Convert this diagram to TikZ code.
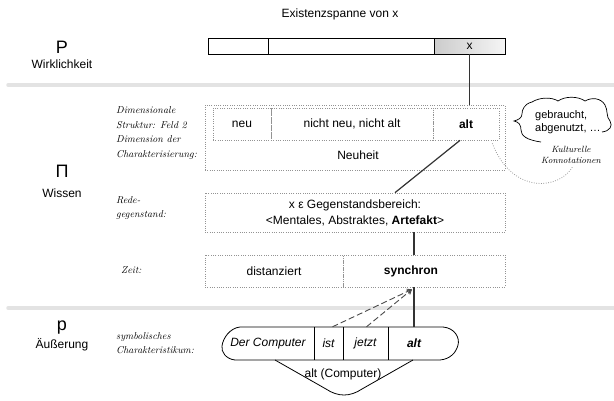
\documentclass[tikz,border=0pt]{standalone}
\usepackage{fontspec}
\newfontfamily\hv{Liberation Sans}
\usetikzlibrary{arrows.meta,calc}
\begin{document}
\begin{tikzpicture}[x=1pt,y=-1pt,
  every node/.style={font=\hv\fontsize{12}{16}\selectfont, inner sep=0pt},
  cell/.style={draw=black, line width=0.8pt, minimum height=16pt},
  dbox/.style={draw=gray!85, line width=0.7pt, dash pattern=on 1pt off 1.3pt},
  conn/.style={draw=black!80, line width=1.2pt},
  dsh/.style={draw=black!70, line width=0.9pt, dash pattern=on 6pt off 3pt},
  sep/.style={line width=3.5pt, draw=gray!22, line cap=round},
  lbl/.style={font=\rmfamily\itshape\fontsize{10}{14.5}\selectfont, anchor=west, align=left},
  big/.style={font=\hv\fontsize{18}{18}\selectfont},
  outl/.style={draw=black, line width=0.8pt},
]
\useasboundingbox (0,0) rectangle (614,400);

% separators
\draw[sep] (8,85) -- (616,85);
\draw[sep] (8,308) -- (616,308);

% left titles
\node[big] (P) at (62,47) {P};
\node (wirk) at (62,64) {Wirklichkeit};
\node[big] (Pi) at (62,171) {Π};
\node (wissen) at (62,193) {Wissen};
\node[big] (p) at (62,328) {p};
\node (aeuss) at (62,345) {Äußerung};

% top
\node (exist) at (340,14) {Existenzspanne von x};
\node[cell, minimum width=60pt] (b1) at (238,46) {};
\node[cell, minimum width=166pt] (b2) at (351,46) {};
\node[cell, minimum width=71pt, left color=gray!40, right color=gray!8] (b3) at (469.5,46) {x};

% Wissen labels
\node[lbl] (dimlbl) at (116,133) {Dimensionale\\Struktur: Feld 2\\Dimension der\\Charakterisierung:};
\node[lbl] (redelbl) at (116,208) {Rede-\\gegenstand:};
\node[lbl] (zeitlbl) at (121,270) {Zeit:};
\node[lbl] (symlbl) at (116,343) {symbolisches\\Charakteristikum:};

% Neuheit box
\node[dbox, minimum width=300pt, minimum height=65pt] (nb) at (355,137.5) {};
\node[dbox, minimum width=58pt, minimum height=32pt] (neu) at (242,124) {neu};
\node[dbox, minimum width=162pt, minimum height=32pt] (mid) at (352,124) {nicht neu, nicht alt};
\node[dbox, minimum width=66pt, minimum height=32pt] (alt) at (466,124) {\bfseries alt};
\node (neuheit) at (358,155) {Neuheit};

% Redegegenstand
\node[dbox, minimum width=300pt, minimum height=39pt, align=center] (rede) at (355,212.5) {x ε Gegenstandsbereich:\\<Mentales, Abstraktes, \textbf{Artefakt}>};

% Zeit
\node[dbox, minimum width=138pt, minimum height=32pt] (dist) at (274,271) {distanziert};
\node[dbox, minimum width=162pt, minimum height=32pt] (sync) at (424,271) {};
\node (synct) at (411,271) {\bfseries synchron};

% cloud
\draw[outl, line width=0.7pt] (602,132) .. controls (610,131) and (613,126) .. (610,121)
  .. controls (606,117) and (608,110) .. (605,105)
  .. controls (601,98) and (592,97) .. (585,101)
  .. controls (578,96) and (565,96) .. (558,101)
  .. controls (552,97) and (540,97) .. (532,102)
  .. controls (524,104) and (522,110) .. (522,114)
  .. controls (522,118) and (518,120) .. (514,121)
  .. controls (519,122) and (521,125) .. (521,130)
  .. controls (521,136) and (527,140) .. (541,142);
\node[anchor=west, align=left, font=\hv\fontsize{11}{12.5}\selectfont] (cloudt) at (535,122) {gebraucht,\\abgenutzt, \dots};
\node[align=center, font=\rmfamily\itshape\fontsize{9}{11.5}\selectfont] (kult) at (571,155) {Kulturelle\\Konnotationen};
\draw[gray!80, line width=0.8pt, dash pattern=on 0.8pt off 1.6pt] ($(alt.south east)+(-7,3)$) .. controls (512,195) and (560,190) .. ($(kult.south)+(2,2)$);

% utterance oval
\node (dc) at (268,343.5) {\itshape Der Computer};
\node[minimum height=33pt] (istc) at (328.5,343.5) {\itshape ist};
\node[minimum height=33pt] (jetztc) at (365.5,343.5) {\itshape jetzt};
\node[minimum height=33pt] (altc) at (414,343.5) {\bfseries\itshape alt};
\draw[outl] (240,327) -- (443,327) .. controls (455,328) and (460,338) .. (458,345)
  .. controls (456,353) and (450,359) .. (440,360) -- (235,360)
  .. controls (226,359) and (221,352) .. (222,346)
  .. controls (223,338) and (230,328) .. (240,327);
\draw[outl] (314,327) -- (314,360);
\draw[outl] (343,327) -- (343,360);
\draw[outl] (388,327) -- (388,360);
\draw[outl] (275,360) -- (326,389) .. controls (338,397) and (350,397) .. (362,389) -- (413,360);
\node (altcomp) at (343,374) {alt (Computer)};

% connectors
\draw[conn] (b3.south) -- (b3.south |- nb.north);
\draw[conn] ($(alt.south)+(-6,0)$) -- ($(rede.north)+(40,0)$);
\draw[conn] (altc.north |- rede.south) -- (altc.north |- sync.north);
\draw[conn] (altc.north) -- (altc.north |- sync.south);
\coordinate (tip) at ($(altc.north |- sync.south)+(-2,2)$);
\draw[dsh, -{Straight Barb[length=4pt,width=5pt]}] ($(istc.north)+(4,0)$) -- (tip);
\draw[dsh, -{Straight Barb[length=4pt,width=5pt]}] ($(jetztc.north)+(1,0)$) -- (tip);
\end{tikzpicture}
\end{document}
